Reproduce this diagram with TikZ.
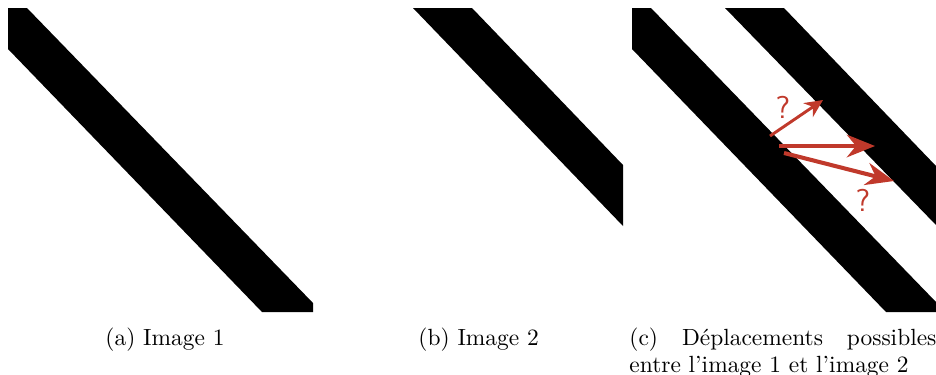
\documentclass[tikz,border=0pt]{standalone}
\usepackage{xcolor}
\usepackage{tikz}
\usetikzlibrary{arrows.meta}

\definecolor{moveRed}{RGB}{192,57,43}

\begin{document}
\begin{tikzpicture}[>=Stealth, x=0.444pt, y=-0.444pt,
		band/.style={fill=black, draw=none},
		smallmove/.style={->, draw=moveRed, line width=1.3pt, >={Stealth[length=8pt,width=7.5pt]}},
		bigmove/.style={->, draw=moveRed, line width=1.8pt, >={Stealth[length=12.5pt,width=10pt]}},
		qmark/.style={text=moveRed, inner sep=0pt, font=\fontsize{14}{14}\sffamily\selectfont},
		caption/.style={anchor=base west, inner sep=0pt, font=\fontsize{10.4}{12}\selectfont}]
			\useasboundingbox (0,0) rectangle (936,374);

			% image 1
			\fill[band] (8,8) -- (27,8) -- (313,303) -- (313,312) -- (262,312) -- (8,49) -- cycle;
			% image 2
			\fill[band] (413,8) -- (472,8) -- (623,165) -- (623,226) -- cycle;
			% both images
			\fill[band] (632,8) -- (651,8) -- (936,302) -- (936,312) -- (886,312) -- (632,49) -- cycle;
			\fill[band] (725,8) -- (784,8) -- (936,166) -- (936,225) -- cycle;

			\coordinate (s1) at (770,136);
			\coordinate (t1) at (823,100);
			\coordinate (s2) at (779,146);
			\coordinate (t2) at (875,146);
			\coordinate (s3) at (784,153);
			\coordinate (t3) at (894,181);

			\draw[smallmove] (s1) -- (t1);
			\draw[bigmove] (s2) -- (t2);
			\draw[bigmove] (s3) -- (t3);
			\node[qmark] (q1) at (783,107) {?};
			\node[qmark] (q2) at (863,200) {?};

			\node[caption] (capa) at (105,345) {(a)\ Image 1};
			\node[caption] (capb) at (418,345) {(b)\ Image 2};
			\node[caption, text width=136.3pt, align=justify] (capc) at (629,345)
				{(c) Déplacements possibles\linebreak entre l'image 1 et l'image 2};
		\end{tikzpicture}
\end{document}
